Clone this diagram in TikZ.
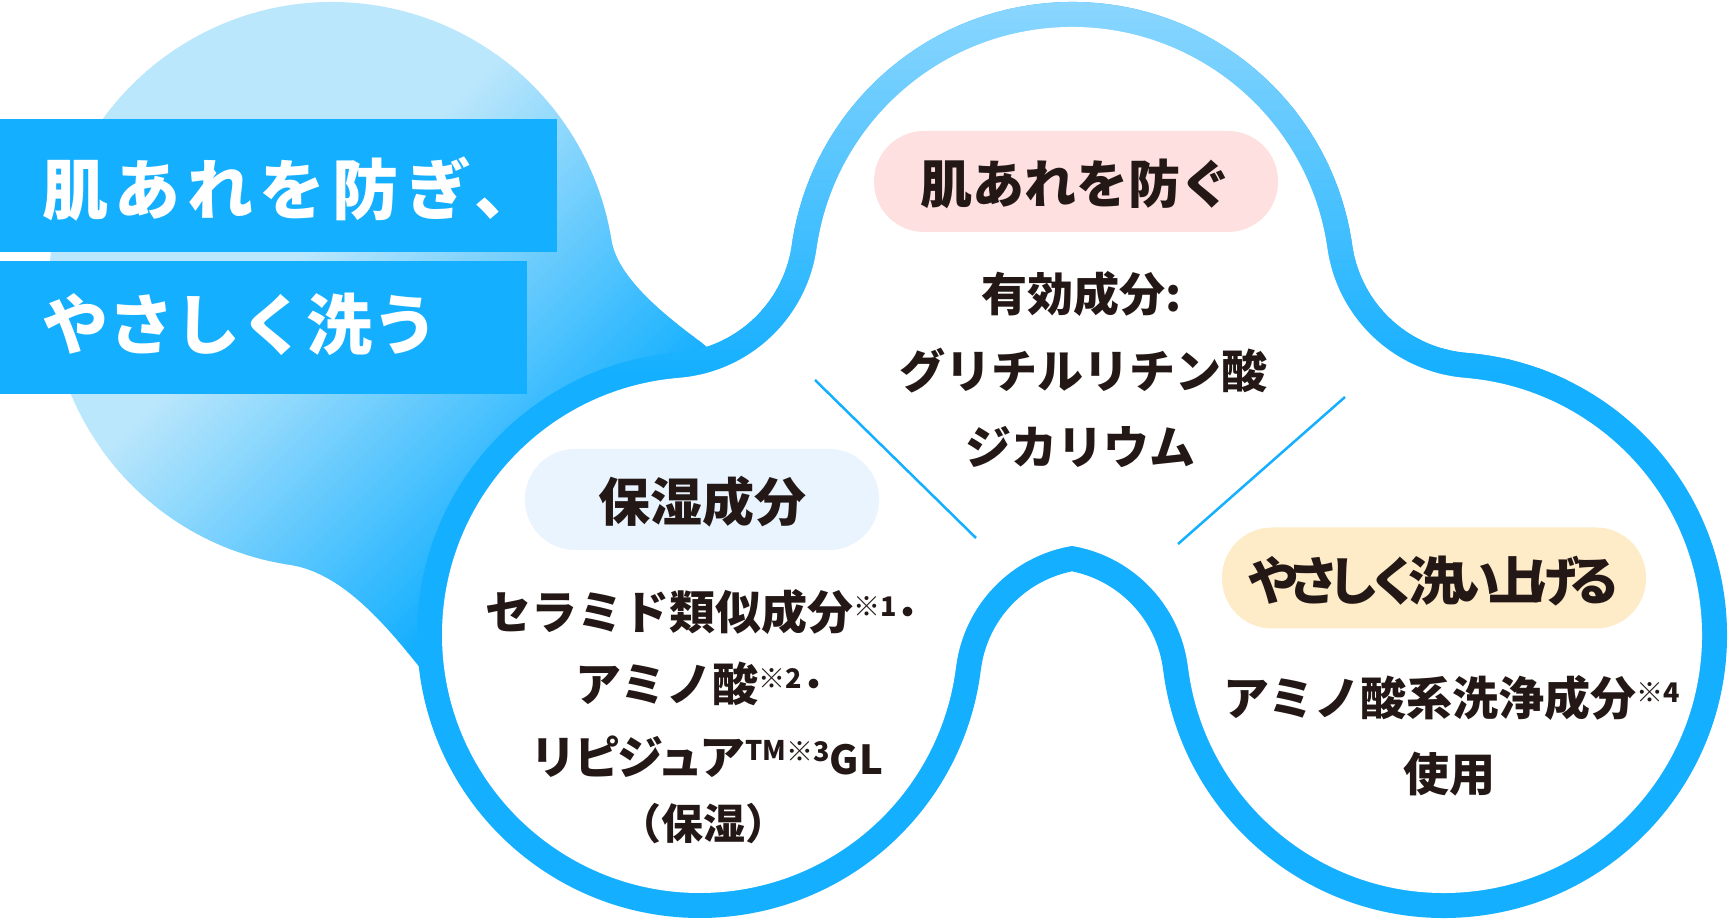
\documentclass[tikz,border=0pt]{standalone}
\usepackage{fontspec}
\newfontfamily\jp{Noto Sans CJK JP}
\newfontfamily\jpp{Noto Sans CJK JP}[LetterSpace=-23]
\newfontfamily\jpn{Noto Sans CJK JP}[LetterSpace=-6]
\newfontfamily\jpwa{Noto Sans CJK JP}[LetterSpace=10]
\newfontfamily\jpwb{Noto Sans CJK JP}
\definecolor{dkblue}{RGB}{20,175,255}
\definecolor{ltring}{RGB}{141,215,254}
\definecolor{ltblob}{RGB}{187,231,252}
\definecolor{txtdark}{HTML}{231815}
\definecolor{pillpink}{HTML}{FDE0DF}
\definecolor{pillblue}{HTML}{E9F4FE}
\definecolor{pillcream}{HTML}{FEEBC8}
\newcommand\sref[1]{\raisebox{13pt}{\fontsize{27}{27}\selectfont ※#1}}
\newcommand\smallup[1]{\raisebox{14pt}{\fontsize{27}{27}\selectfont #1}}
\def\innerpath{(L) ++(94.6:258) arc[start angle=94.6, end angle=352.93, radius=258]
 -- ([shift={(172.93:140)}]AL) arc[start angle=172.93, end angle=99.5, radius=140]
 -- ([shift={(80.5:140)}]AR) arc[start angle=80.5, end angle=7.07, radius=140]
 -- ([shift={(187.07:258)}]R) arc[start angle=187.07, end angle=445.4, radius=258]
 -- ([shift={(265.4:151)}]FR) arc[start angle=265.4, end angle=188.1, radius=151]
 -- ([shift={(8.1:258)}]T) arc[start angle=8.1, end angle=171.9, radius=258]
 -- ([shift={(351.9:151)}]FL) arc[start angle=351.9, end angle=274.6, radius=151]
 -- cycle}
\def\blobpath{([shift={(9.2:283)}]B) .. controls (617.4,640.5) and (670,600.8) .. (702,577)
 -- (745,540) -- (430,240) .. controls (398.3,278.6) and (349.5,346.2) .. ([shift={(261.5:283)}]B)
 arc[start angle=261.5, end angle=9.2, radius=283] -- cycle}
\begin{document}
\begin{tikzpicture}[x=1pt,y=1pt,
  ringline/.style={line width=50pt, line join=round},
  pill/.style={rounded corners=50pt, inner sep=0pt, minimum height=101pt, text=txtdark,
    font=\jp\bfseries\fontsize{52}{56}\selectfont, text height=53pt, text depth=8pt},
  body/.style={inner sep=0pt, text=txtdark, font=\jp\bfseries\fontsize{46}{50}\selectfont,
    text height=41pt, text depth=6pt},
  bodysmall/.style={inner sep=0pt, text=txtdark, font=\jp\bfseries\fontsize{42}{46}\selectfont,
    text height=38pt, text depth=6pt},
  banner/.style={fill=dkblue, draw=none},
  bannertext/.style={inner sep=0pt, text=white, anchor=west, text height=58pt, text depth=8pt},
  sepline/.style={draw=dkblue, line width=2.5pt}]
\useasboundingbox (0,0) rectangle (1729,920);
\fill[white] (0,0) rectangle (1729,920);
% centres
\coordinate (B) at (332,635);
\coordinate (T) at (1072,635);
\coordinate (L) at (700,285);
\coordinate (R) at (1444,285);
\coordinate (AL) at (1095,236);
\coordinate (AR) at (1049,236);
\coordinate (FL) at (667.1,692.7);
\coordinate (FR) at (1476.9,692.7);
% background blob with diagonal gradient
\begin{scope}
  \clip \blobpath;
  \fill[ltblob] (0,150) rectangle (800,950);
  \foreach \q in {550,560,...,1050}{
    \pgfmathsetmacro{\ff}{(\q-550)/5.1}
    \pgfmathsetmacro{\ka}{\q-920}
    \fill[dkblue!\ff!ltblob] (\ka+150,150) -- (\ka+950,950) -- (\ka+961,950) -- (\ka+161,150) -- cycle;
  }
  \fill[dkblue] (290,150) -- (1090,950) -- (1800,950) -- (1800,150) -- cycle;
\end{scope}
% ring with vertical gradient
\draw[ringline, draw=dkblue] \innerpath;
\foreach \yy in {540,550,...,920}{
  \pgfmathsetmacro{\ff}{(\yy-540)/3.8}
  \begin{scope}
    \clip (0,\yy) rectangle (1729,\yy+11);
    \draw[ringline, draw=ltring!\ff!dkblue] \innerpath;
  \end{scope}
}
\fill[white] \innerpath;
% separators
\coordinate (s1a) at (815,540);
\coordinate (s1b) at (976,382);
\coordinate (s2a) at (1345,523);
\coordinate (s2b) at (1178,376);
\draw[sepline] (s1a) -- (s1b);
\draw[sepline] (s2a) -- (s2b);
% pills
\node[pill, fill=pillpink, minimum width=404pt] (p1) at (1076,738.5) {肌あれを防ぐ};
\node[pill, fill=pillblue, minimum width=354pt] (p2) at (702,420.5) {保湿成分};
\node[pill, fill=pillcream, minimum width=424pt, font=\jpp\bfseries\fontsize{52}{56}\selectfont] (p3) at (1434,342) {やさしく洗い上げる};
% body text
\node[body] (t1) at (1082,626) {有効成分:};
\node[body] (t2) at (1083,549) {グリチルリチン酸};
\node[body] (t3) at (1080.5,473) {ジカリウム};
\node[body] (l1) at (702.5,307.5) {セラミド類似成分\sref{1}･};
\node[body] (l2) at (700.5,236) {アミノ酸\sref{2}･};
\node[body] (l3) at (707,163) {{\jpn リピジュア}\smallup{TM}\sref{3}{\fontsize{40}{44}\selectfont GL}};
\node[bodysmall] (l4) at (703.5,96) {（保湿）};
\node[body] (r1) at (1452,222) {アミノ酸系洗浄成分\sref{4}};
\node[body] (r2) at (1449,146) {使用};
% banners
\fill[banner] (0,668) rectangle (557,801);
\fill[banner] (0,526) rectangle (527,659);
\node[bannertext, font=\jpwa\bfseries\fontsize{66}{70}\selectfont] (h1) at (42,730) {肌あれを防ぎ、};
\node[bannertext, font=\jpwb\bfseries\fontsize{66}{70}\selectfont] (h2) at (42,595) {やさしく洗う};
\end{tikzpicture}
\end{document}
